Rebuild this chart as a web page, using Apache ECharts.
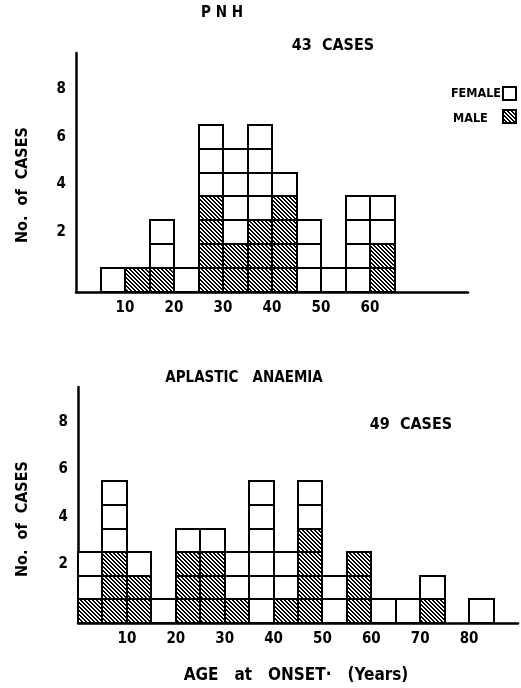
<!DOCTYPE html>
<html><head><meta charset="utf-8">
<script src="https://cdn.jsdelivr.net/npm/echarts@6/dist/echarts.min.js"></script>
<style>html,body{margin:0;padding:0;background:#fff}#c{width:521px;height:688px}</style>
</head><body><div id="c"></div>
<script>
// ---- data ----
const binWidth = 5;
const pnhBins = [5, 10, 15, 20, 25, 30, 35, 40, 45, 50, 55, 60];
const pnhMale = [0, 1, 1, 0, 4, 2, 3, 4, 0, 0, 0, 2];
const pnhFemale = [1, 0, 2, 1, 3, 4, 4, 1, 3, 1, 4, 2];
const aaBins = [0, 5, 10, 15, 20, 25, 30, 35, 40, 45, 50, 55, 60, 65, 70, 75, 80];
const aaMale = [1, 3, 2, 0, 3, 3, 1, 0, 1, 4, 0, 3, 0, 0, 1, 0, 0];
const aaFemale = [2, 3, 1, 1, 1, 1, 2, 6, 2, 2, 2, 0, 1, 1, 1, 0, 1];
const pnhXTicks = [10, 20, 30, 40, 50, 60];
const aaXTicks = [10, 20, 30, 40, 50, 60, 70, 80];
const yTicks = [2, 4, 6, 8];

// ---- hatch pattern (crisp "\" stripes) ----
const pc = document.createElement('canvas');
pc.width = 4; pc.height = 4;
const g = pc.getContext('2d');
g.fillStyle = '#fff'; g.fillRect(0, 0, 4, 4);
g.fillStyle = '#000';
for (let yy = 0; yy < 4; yy++) {
  for (let xx = 0; xx < 4; xx++) {
    const d = ((xx - yy) % 4 + 4) % 4;
    if (d === 0 || d === 1) g.fillRect(xx, yy, 1, 1);
  }
}
const hatch = { type: 'pattern', image: pc, repeat: 'repeat' };

const FONT = '"DejaVu Sans Condensed", "DejaVu Sans", sans-serif';

function boxes(fill) {
  return function (params, api) {
    const x0 = api.value(0), lo = api.value(1), hi = api.value(2);
    const children = [];
    for (let k = lo; k < hi; k++) {
      const p1 = api.coord([x0, k + 1]);
      const p2 = api.coord([x0 + binWidth, k]);
      children.push({
        type: 'rect',
        shape: { x: Math.round(p1[0]), y: Math.round(p1[1]), width: Math.round(p2[0]) - Math.round(p1[0]), height: Math.round(p2[1]) - Math.round(p1[1]) },
        style: { fill: fill, stroke: '#000', lineWidth: 2 }
      });
    }
    return { type: 'group', children: children };
  };
}
function maleData(bins, male) { return bins.map((b, i) => [b, 0, male[i]]); }
function femaleData(bins, male, female) { return bins.map((b, i) => [b, male[i], male[i] + female[i]]); }

function xAxis(gi, max, ticks) {
  return {
    type: 'value', gridIndex: gi, min: 0, max: max, interval: 10,
    axisLine: { lineStyle: { color: '#000', width: 2.5 } },
    axisTick: { show: false }, splitLine: { show: false },
    axisLabel: { color: '#000', fontFamily: FONT, fontWeight: 'bold', fontSize: 15, margin: 9,
      formatter: v => ticks.includes(v) ? String(v) : '' }
  };
}
function yAxis(gi) {
  return {
    type: 'value', gridIndex: gi, min: 0, max: 10, interval: 0.5,
    axisLine: { show: true, lineStyle: { color: '#000', width: 2.5 } },
    axisTick: { show: false }, splitLine: { show: false },
    axisLabel: { color: '#000', fontFamily: FONT, fontWeight: 'bold', fontSize: 15, margin: 10,
      formatter: v => yTicks.includes(v - 0.5) ? String(v - 0.5) : '' }
  };
}
function txt(text, x, y, size, align, extra) {
  return Object.assign({
    type: 'text', x: x, y: y, silent: true,
    style: { text: text, fill: '#000', font: 'bold ' + size + 'px ' + FONT, align: align || 'center', verticalAlign: 'middle' }
  }, extra || {});
}

const chart = echarts.init(document.getElementById('c'), null, { renderer: 'canvas' });
chart.setOption({
  animation: false,
  backgroundColor: '#fff',
  grid: [
    { left: 76, top: 53, width: 392, height: 239 },
    { left: 78, top: 387, width: 440, height: 236 }
  ],
  xAxis: [xAxis(0, 80, pnhXTicks), xAxis(1, 90, aaXTicks)],
  yAxis: [yAxis(0), yAxis(1)],
  series: [
    { type: 'custom', name: 'MALE', xAxisIndex: 0, yAxisIndex: 0, renderItem: boxes(hatch),
      encode: { x: 0, y: [1, 2] }, data: maleData(pnhBins, pnhMale) },
    { type: 'custom', name: 'FEMALE', xAxisIndex: 0, yAxisIndex: 0, renderItem: boxes('#fff'),
      encode: { x: 0, y: [1, 2] }, data: femaleData(pnhBins, pnhMale, pnhFemale) },
    { type: 'custom', name: 'MALE', xAxisIndex: 1, yAxisIndex: 1, renderItem: boxes(hatch),
      encode: { x: 0, y: [1, 2] }, data: maleData(aaBins, aaMale) },
    { type: 'custom', name: 'FEMALE', xAxisIndex: 1, yAxisIndex: 1, renderItem: boxes('#fff'),
      encode: { x: 0, y: [1, 2] }, data: femaleData(aaBins, aaMale, aaFemale) }
  ],
  graphic: [
    txt('P N H', 222, 13, 15),
    txt('43  CASES', 333, 46, 16),
    txt('FEMALE', 501, 94, 12.5, 'right'),
    txt('MALE', 453, 119, 12.5, 'left'),
    { type: 'rect', shape: { x: 503, y: 87, width: 13, height: 13 }, style: { fill: '#fff', stroke: '#000', lineWidth: 2 } },
    { type: 'rect', shape: { x: 503, y: 110, width: 13, height: 13 }, style: { fill: hatch, stroke: '#000', lineWidth: 2 } },
    txt('No.  of  CASES', 23, 185, 16, 'center', { rotation: Math.PI / 2 }),
    txt('APLASTIC   ANAEMIA', 244, 378, 15),
    txt('49  CASES', 411, 425, 16),
    txt('No.  of  CASES', 23, 519, 16, 'center', { rotation: Math.PI / 2 }),
    txt('AGE   at   ONSET·   (Years)', 296, 676, 17)
  ]
});
</script></body></html>
